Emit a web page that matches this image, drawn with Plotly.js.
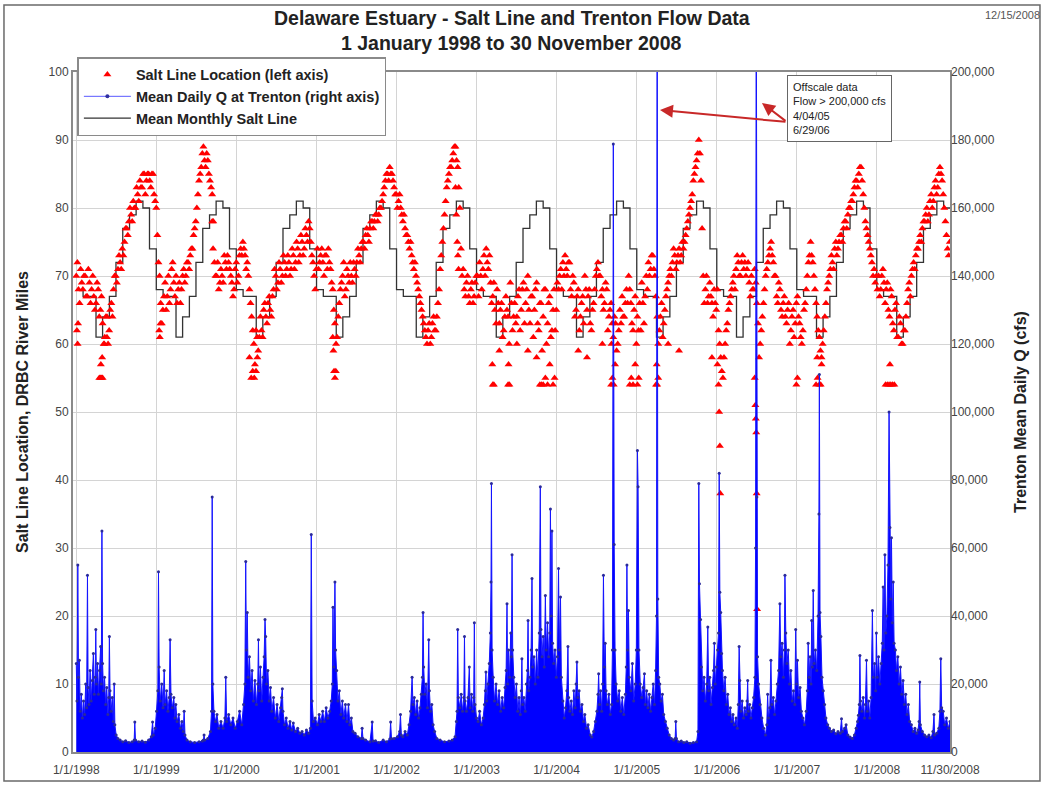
<!DOCTYPE html>
<html>
<head>
<meta charset="utf-8">
<script src="https://cdn.plot.ly/plotly-3.0.1.min.js"></script>
<style>
  html, body { margin: 0; padding: 0; background: #ffffff; }
  #chart { width: 1043px; height: 785px; }
</style>
</head>
<body>
<div id="chart"></div>
<script>
// ---------------- DATA ----------------
// Salt line location (DRBC river miles), readings on days 0,10,20,... after 1/1/1998
const saltMilesA = [
  // 1998
  70,68,71,68,70,67,69,68,67,66,68,65,63,61,64,62,66,68,70,71,72,74,75,77,78,79,81,80,82,84,83,85,84,85,83,85,81,
  // 1999
  76,70,63,67,65,70,68,72,67,66,69,68,71,70,72,73,74,77,80,84,86,89,86,87,84,82,72,70,68,71,69,72,73,71,69,68,
  // 2000
  72,70,74,75,73,72,68,64,60,62,59,64,61,66,63,67,64,68,70,69,71,70,72,71,72,71,73,72,74,73,75,74,76,78,75,72,68,
  // 2001
  74,72,74,70,73,74,71,68,63,61,66,69,72,68,70,72,69,71,72,73,74,75,76,76,77,78,78,79,79,80,82,84,85,86,85,83,
  // 2002
  82,81,80,78,77,76,74,73,71,70,68,66,64,62,60,63,61,64,62,66,71,75,79,83,85,86,88,89,86,80,70,68,69,67,68,66,69,
  // 2003
  70,72,68,73,74,71,69,67,65,68,63,66,62,67,64,69,62,66,64,68,65,69,66,70,63,67,65,69,62,66,64,68,63,67,62,68,65,
  // 2004
  68,71,72,73,70,72,67,69,65,68,64,67,70,65,68,62,66,70,72,70,68,66,68,64,66,61,63,60,65,67,64,68,70,66,62,67,64,
  // 2005
  66,69,63,70,72,71,73,70,64,62,66,63,67,69,71,72,73,72,74,73,74,76,78,80,82,85,87,90,84,70,68,66,69,66,68,65,
  // 2006
  62,58,55,60,63,66,68,70,71,72,70,73,72,71,69,70,68,69,63,60,64,68,71,73,75,72,70,66,68,64,67,63,66,62,65,63,67,
  // 2007
  63,60,65,68,72,75,72,68,64,61,58,62,66,69,71,72,74,73,75,76,77,78,79,80,81,83,84,85,86,82,78,76,74,72,71,70,
  // 2008
  70,68,71,66,69,64,67,62,66,61,63,60,62,66,69,70,72,73,74,76,77,78,80,79,82,81,84,83,86,84,80,76,73
];
// Salt line readings on days 5,15,25,... after 1/1/1998 (other edge of the daily band)
const saltMilesB = [
  // 1998
  72,66,69,70,67,71,66,70,65,69,64,67,60,64,60,65,64,70,69,73,71,73,77,76,80,78,80,83,81,83,85,82,85,84,85,82,80,
  // 1999
  72,66,65,69,67,66,71,69,70,68,66,70,69,72,71,74,76,78,82,85,88,87,88,85,83,78,70,72,69,70,73,71,72,70,67,71,
  // 2000
  69,73,73,74,71,70,66,62,57,61,61,62,65,64,66,65,67,71,68,72,69,73,70,73,70,74,71,75,72,76,73,77,75,77,73,70,71,
  // 2001
  71,73,72,73,71,72,69,65,60,64,68,70,67,71,69,70,72,70,74,72,75,74,77,75,78,77,79,78,80,81,83,85,84,85,84,82,
  // 2002
  80,82,79,79,76,75,75,72,72,69,67,65,63,61,62,60,63,62,64,68,73,77,81,84,86,87,89,87,83,74,71,67,70,66,69,67,70,
  // 2003
  67,70,71,70,72,73,66,69,63,66,65,61,64,65,60,66,64,63,67,62,68,63,68,65,67,61,68,63,66,59,68,60,66,61,65,62,69,
  // 2004
  70,68,70,71,72,68,70,64,67,62,66,63,68,67,63,65,68,71,70,67,65,69,62,65,63,64,59,62,63,64,66,66,68,63,65,60,62,
  // 2005
  62,66,67,68,70,73,71,67,60,64,61,65,68,70,70,74,71,73,72,75,75,77,79,81,84,86,88,88,77,66,70,67,67,64,66,68,
  // 2006
  60,56,58,62,65,67,69,68,73,70,72,71,70,72,67,68,71,66,58,62,66,70,72,74,73,70,67,69,65,66,64,65,60,64,61,66,64,
  // 2007
  61,62,66,70,73,73,70,66,62,59,60,64,68,70,73,71,75,74,76,75,78,77,80,81,82,84,83,86,84,80,77,75,73,70,69,68,
  // 2008
  67,70,69,68,65,68,63,65,61,64,60,62,64,68,67,71,71,74,75,75,78,79,78,81,80,83,82,85,85,82,78,74,75
];

// Low salt-line readings below the main band: [days after 1/1/1998, river mile]
const saltOutliers = [
  [3,62],[6,60],[8,63],[105,55],[110,55],[115,55],[120,55],[112,57],[118,58],[128,60],[140,61],
  [378,62],[381,61],[384,63],[620,78],[624,74],
  [790,58],[798,55],[805,56],[812,55],[820,56],[826,58],
  [1170,61],[1173,59],[1176,56],[1180,55],[1184,56],
  [1730,83],[1734,79],[1738,75],[1741,73],[1744,71],
  [1898,57],[1900,54],[1905,54],[1930,59],[1970,54],[1972,57],[1976,54],[2010,60],[2060,59],[2100,58],
  [2115,54],[2122,54],[2130,54],[2140,55],[2150,54],[2160,57],[2175,54],[2182,55],
  [2290,59],[2330,58],[2400,60],[2440,54],[2442,60],[2446,55],[2452,54],[2458,57],
  [2525,54],[2532,55],[2540,54],[2550,57],[2560,54],[2566,55],
  [2645,54],[2648,57],[2650,54],[2655,55],[2700,60],[2750,59],[2900,58],
  [2925,57],[2930,54],[2933,50],[2936,45],[2938,38],
  [3095,55],[3098,51],[3100,49],[3102,47],[3104,38],[3106,21],
  [3285,54],[3290,55],[3375,54],[3380,58],[3382,55],[3390,54],[3396,54],[3400,57],
  [3692,54],[3700,54],[3708,54],[3712,57],[3716,54],[3724,54],[3732,54]
];

// Mean daily flow at Trenton (cfs): [days after 1/1/1998, cfs]
const flowPoints = [
  // 1998
  [0,26000],[3,15000],[7,55000],[10,22000],[14,27000],[18,12000],[23,17000],[28,10000],[33,15000],[38,11000],
  [43,20000],[47,13000],[51,52000],[54,19000],[58,14000],[63,24000],[68,15000],[73,21000],[78,29000],[82,17000],
  [86,22000],[89,36000],[92,20000],[97,26000],[101,17000],[106,24000],[111,31000],[114,20000],[117,65000],[120,26000],
  [124,18000],[129,22000],[134,14000],[139,19000],[144,11000],[148,16000],[151,34000],[154,18000],[159,12000],[164,16000],
  [169,9000],[173,20000],[176,8000],[182,5000],[190,4000],[200,3500],[212,3000],[225,3300],[240,2800],[255,3000],
  [264,3500],[267,8800],[270,3500],[285,3000],[300,3200],[315,2900],[330,3500],[342,4500],[348,8800],[352,5000],[360,7000],
  // 1999
  [366,12000],[372,18000],[375,53000],[378,25000],[383,15000],[390,20000],[396,13000],[401,24000],[405,14000],[412,18000],
  [418,12000],[424,16000],[428,33000],[432,17000],[438,13000],[445,16000],[450,10000],[454,14000],[460,9000],[468,11000],
  [475,7000],[482,9000],[488,6000],[492,12000],[496,5000],[505,3500],[520,3000],[540,2800],[560,3000],[575,3200],
  [580,3500],[583,5000],[586,3500],[600,4000],[612,6000],[617,12000],[620,75000],[623,20000],[628,12000],[635,9000],
  [642,11000],[650,7000],[660,9000],[670,7000],[678,10000],[682,22000],[686,9000],[695,11000],[705,8000],[715,10000],[725,7000],
  // 2000
  [735,9000],[745,12000],[755,8000],[763,14000],[769,20000],[773,56000],[776,30000],[780,41000],[784,22000],[790,28000],
  [796,18000],[802,24000],[808,15000],[815,21000],[822,14000],[828,20000],[831,33000],[834,18000],[840,25000],[846,15000],
  [852,22000],[857,28000],[861,39000],[864,34000],[868,20000],[874,24000],[880,15000],[886,19000],[892,12000],[900,16000],
  [908,10000],[916,14000],[924,9000],[932,13000],[937,16000],[940,18600],[943,12000],[950,8000],[958,10000],[966,7000],
  [975,9000],[983,6500],[990,8500],[1000,6000],[1010,7000],[1020,5500],[1030,6000],[1040,5000],[1050,6500],[1060,5500],
  [1068,7000],[1072,64000],[1076,15000],[1082,9000],[1090,10000],
  // 2001
  [1100,8000],[1108,11000],[1116,9000],[1124,12000],[1132,9000],[1140,13000],[1148,10000],[1156,12000],[1163,15000],[1168,20000],
  [1171,42600],[1175,25000],[1180,50000],[1183,30000],[1188,24000],[1194,15000],[1200,18000],[1207,11000],[1214,15000],[1220,10000],
  [1228,14000],[1235,9000],[1242,14000],[1248,8000],[1255,10000],[1262,6000],[1272,5500],[1285,4500],[1300,4000],[1304,7000],
  [1308,4000],[1320,3500],[1340,3000],[1350,8800],[1354,3200],[1365,3300],[1380,2800],[1400,3500],[1415,3000],[1430,3800],
  [1434,8800],[1438,4000],[1450,4000],[1465,4500],[1475,6000],[1479,11000],[1483,5000],
  // 2002
  [1490,4500],[1500,6000],[1510,5000],[1518,8000],[1525,12000],[1532,22000],[1536,14000],[1542,16000],[1548,11000],[1555,15000],
  [1562,10000],[1568,13000],[1574,17000],[1579,22000],[1582,41000],[1585,25000],[1590,17000],[1596,20000],[1602,13000],[1608,33000],
  [1611,18000],[1616,12000],[1622,14000],[1628,8000],[1635,6000],[1645,4000],[1660,3500],[1680,3000],[1700,3200],[1715,3500],
  [1728,4500],[1734,9000],[1737,12000],[1740,36000],[1743,16000],[1750,13000],[1756,17000],[1762,12000],[1768,16000],[1771,34000],
  [1774,15000],[1780,12000],[1787,16000],[1793,25000],[1797,13000],[1803,17000],[1809,12000],[1813,16000],[1816,38000],[1819,14000],[1826,10000],
  // 2003
  [1833,9000],[1840,12000],[1848,8000],[1856,10000],[1862,14000],[1866,18000],[1869,23500],[1872,15000],[1878,20000],[1884,26000],
  [1889,35000],[1892,50000],[1894,79000],[1897,30000],[1902,22000],[1908,15000],[1915,20000],[1922,14000],[1929,18000],[1936,12000],
  [1943,16000],[1950,13000],[1956,19000],[1961,24000],[1965,43600],[1968,20000],[1972,30000],[1977,22000],[1982,35000],[1985,28000],
  [1988,58000],[1991,30000],[1996,22000],[2002,16000],[2008,20000],[2014,12000],[2020,16000],[2026,11000],[2030,18000],[2033,27400],
  [2036,14000],[2042,16000],[2048,12000],[2053,20000],[2058,24000],[2061,38700],[2064,18000],[2070,22000],[2075,30000],[2079,51000],
  [2082,25000],[2088,28000],[2094,20000],[2100,30000],[2106,22000],[2112,35000],[2117,78000],[2120,36000],[2125,28000],[2130,34000],
  [2135,25000],[2140,46000],[2144,30000],[2150,38000],[2155,28000],[2160,35000],[2163,71500],[2167,40000],[2170,65000],[2173,32000],
  [2178,26000],[2184,30000],[2190,22000],[2195,28000],[2200,54000],[2204,30000],[2209,45600],[2213,22000],
  // 2004
  [2220,15000],[2226,10000],[2232,13000],[2238,18000],[2243,31000],[2246,16000],[2252,12000],[2258,15000],[2264,11000],[2270,18000],
  [2276,13000],[2280,20000],[2284,26500],[2288,16000],[2294,18000],[2300,12000],[2307,14000],[2314,9000],[2320,11000],[2328,7000],
  [2335,8000],[2345,5000],[2352,4400],[2360,6000],[2368,9000],[2375,12000],[2380,17000],[2383,23000],[2387,14000],[2392,18000],
  [2397,12000],[2401,20000],[2405,52000],[2409,25000],[2413,32000],[2417,18000],[2423,14000],[2430,17000],[2436,11000],[2442,14000],
  [2446,30000],[2450,178800],[2454,61000],[2458,30000],[2463,20000],[2470,15000],[2477,18000],[2484,12000],[2491,16000],[2498,11000],
  [2505,17000],[2509,25000],[2512,55000],[2515,30000],[2519,41600],[2523,22000],[2530,18000],[2537,26000],[2543,15000],[2550,20000],
  [2555,30000],[2560,88700],[2563,78000],[2567,30000],[2573,20000],[2580,16000],
  // 2005
  [2586,19000],[2592,23000],[2596,14000],[2602,18000],[2608,13000],[2614,17000],[2620,12000],[2626,16000],[2632,20000],[2638,14000],
  [2643,24000],[2647,40000],[2650,241000],[2653,45000],[2657,22000],[2662,20000],[2668,15000],[2674,17000],[2680,11000],[2688,9000],
  [2696,7000],[2705,5000],[2715,4000],[2725,3500],[2732,4000],[2735,9000],[2738,4000],[2748,3000],[2760,3200],[2772,2800],
  [2785,3000],[2800,2600],[2815,2800],[2830,3000],[2836,6000],[2840,79000],[2843,49500],[2848,39000],[2852,25000],[2858,18000],
  [2864,22000],[2870,15000],[2876,20000],[2881,36800],[2885,18000],[2890,22000],[2896,14000],[2902,19000],[2907,24000],[2911,32000],[2915,20000],
  // 2006
  [2920,25000],[2926,30000],[2930,35000],[2933,82000],[2936,47000],[2940,41000],[2944,29000],[2948,24000],[2954,18000],[2960,22000],
  [2966,14000],[2972,17000],[2978,11000],[2984,13000],[2990,9000],[2996,11000],[3002,8000],[3010,10000],[3016,7000],[3020,14000],
  [3024,31000],[3027,21000],[3032,12000],[3038,15000],[3044,10000],[3050,13000],[3056,11000],[3060,15000],[3063,21000],[3066,12000],
  [3072,14000],[3078,10000],[3084,13000],[3090,16000],[3096,22000],[3099,60000],[3102,237000],[3105,75000],[3108,28000],[3113,20000],
  [3120,14000],[3128,10000],[3136,7000],[3144,5000],[3150,8000],[3154,17000],[3158,10000],[3164,13000],[3169,27000],[3173,14000],
  [3180,16000],[3186,11000],[3192,15000],[3198,20000],[3204,24000],[3210,43600],[3214,28000],[3220,32000],[3226,22000],[3230,30000],
  [3233,52000],[3237,35000],[3242,26000],[3248,30000],[3254,20000],[3260,24000],[3266,15000],[3272,18000],[3278,14000],[3282,36000],
  // 2007
  [3286,20000],[3290,27000],[3295,16000],[3302,19000],[3308,12000],[3315,10000],[3322,8000],[3330,12000],[3335,18000],[3339,32000],
  [3343,22000],[3348,28000],[3352,20000],[3355,38700],[3358,25000],[3362,47500],[3366,26000],[3372,30000],[3378,24000],[3384,40000],
  [3388,70000],[3390,111000],[3393,41000],[3397,34000],[3402,22000],[3408,18000],[3414,14000],[3420,10000],[3428,8000],[3436,7000],
  [3445,6000],[3455,6500],[3465,5400],[3475,6000],[3485,5500],[3491,9800],[3495,6000],[3505,7000],[3512,8000],[3520,5000],
  [3530,4400],[3540,4000],[3550,5000],[3558,7000],[3564,9000],[3568,10800],[3572,14000],[3575,28400],[3578,15000],[3584,12000],
  [3590,16000],[3596,10000],[3600,14000],[3605,27000],[3609,12000],[3615,15000],[3620,10000],[3626,16000],[3632,41600],[3636,22000],
  [3642,26000],[3647,18000],
  // 2008
  [3650,35000],[3654,22000],[3660,28000],[3666,20000],[3672,26000],[3677,32000],[3681,48500],[3685,30000],[3689,58000],[3693,35000],
  [3698,40000],[3703,55000],[3708,100000],[3712,66000],[3716,45000],[3719,63000],[3723,38000],[3727,50000],[3731,32000],[3737,30000],
  [3742,24000],[3748,28000],[3754,20000],[3760,25000],[3766,17000],[3772,21000],[3778,14000],[3784,17000],[3790,11000],[3796,14000],
  [3802,9000],[3810,8000],[3818,6000],[3826,7000],[3834,5500],[3840,6500],[3845,9000],[3848,20600],[3851,8000],[3860,6000],
  [3870,5000],[3880,4500],[3890,5000],[3900,4200],[3908,6000],[3913,11000],[3916,5000],[3925,5500],[3935,7000],[3940,12000],
  [3944,27400],[3948,13000],[3955,12000],[3962,8000],[3970,10000],[3978,7000],[3986,9000]
];

// Long-term mean monthly salt line (river miles), Jan..Dec, repeated every year
const monthlyMeanMiles = [68, 67, 67, 61, 64, 67, 72, 77, 79, 81, 80, 74];

const xTickDates  = ['1998-01-01','1999-01-01','2000-01-01','2001-01-01','2002-01-01','2003-01-01',
                     '2004-01-01','2005-01-01','2006-01-01','2007-01-01','2008-01-01','2008-11-30'];
const xTickLabels = ['1/1/1998','1/1/1999','1/1/2000','1/1/2001','1/1/2002','1/1/2003',
                     '1/1/2004','1/1/2005','1/1/2006','1/1/2007','1/1/2008','11/30/2008'];
const leftTicks  = [0,10,20,30,40,50,60,70,80,90,100];
const rightTicks = [0,20000,40000,60000,80000,100000,120000,140000,160000,180000,200000];

// ---------------- BUILD TRACES ----------------
const T0 = Date.UTC(1998, 0, 1);
function dayToDate(d) { return new Date(T0 + d * 86400000).toISOString().slice(0, 10); }

const saltX = saltMilesA.map((v, k) => dayToDate(10 * k))
  .concat(saltMilesB.map((v, k) => dayToDate(10 * k + 5)))
  .concat(saltOutliers.map(p => dayToDate(p[0])));
const saltY = saltMilesA.concat(saltMilesB).concat(saltOutliers.map(p => p[1]));

const flowX = flowPoints.map(p => dayToDate(p[0]));
const flowY = flowPoints.map(p => p[1]);

const stepX = [], stepY = [];
for (let y = 1998; y <= 2008; y++) {
  for (let m = 0; m < 12; m++) {
    if (y === 2008 && m > 10) break;
    stepX.push(y + '-' + String(m + 1).padStart(2, '0') + '-01');
    stepY.push(monthlyMeanMiles[m]);
  }
}
stepX.push('2008-11-30'); stepY.push(monthlyMeanMiles[10]);

const FONT = 'Liberation Sans, Arial, sans-serif';

const traces = [
  {
    name: 'Mean Daily Q at Trenton (right axis)',
    x: flowX, y: flowY, yaxis: 'y2',
    type: 'scatter', mode: 'lines+markers',
    line: { color: '#1414ff', width: 1 },
    marker: { color: '#2a2a9a', size: 3 },
    fill: 'tozeroy', fillcolor: '#0000ff',
    showlegend: false
  },
  {
    // legend swatch only (line with dots, as in the original key)
    name: 'Mean Daily Q at Trenton (right axis)',
    x: [null], y: [null], yaxis: 'y2',
    type: 'scatter', mode: 'lines+markers',
    line: { color: '#5a5aff', width: 1 },
    marker: { color: '#3030a0', size: 4 },
    legendrank: 2
  },
  {
    name: 'Mean Monthly Salt Line',
    x: stepX, y: stepY,
    type: 'scatter', mode: 'lines',
    line: { color: '#333333', width: 1.3, shape: 'hv' },
    legendrank: 3
  },
  {
    name: 'Salt Line Location (left axis)',
    x: saltX, y: saltY,
    type: 'scatter', mode: 'markers',
    marker: { symbol: 'triangle-up', color: '#ff0000', size: 7 },
    legendrank: 1
  }
];

const layout = {
  width: 1043, height: 785,
  margin: { l: 73, r: 93, t: 72, b: 33 },
  paper_bgcolor: '#ffffff', plot_bgcolor: '#ffffff',
  font: { family: FONT, size: 12, color: '#333333' },
  showlegend: true,
  legend: {
    x: 0.005, y: 1.022, xanchor: 'left', yanchor: 'top',
    bgcolor: '#ffffff', bordercolor: '#8a8a8a', borderwidth: 1.5,
    font: { family: FONT, size: 14.5, color: '#222222', weight: 'bold' },
    itemwidth: 47, tracegroupgap: 0
  },
  xaxis: {
    type: 'date', range: ['1997-12-17', '2008-11-30'],
    tickmode: 'array', tickvals: xTickDates, ticktext: xTickLabels,
    tickfont: { family: FONT, size: 12, color: '#444444' },
    ticklabelstandoff: 6,
    showgrid: true, gridcolor: '#d4d4d4', gridwidth: 1,
    showline: true, linecolor: '#8a8a8a', linewidth: 2, mirror: true,
    ticks: '', zeroline: false
  },
  yaxis: {
    range: [0, 100], tickmode: 'array', tickvals: leftTicks,
    tickfont: { family: FONT, size: 12, color: '#444444' },
    showgrid: true, gridcolor: '#d4d4d4', gridwidth: 1,
    showline: true, linecolor: '#8a8a8a', linewidth: 2, mirror: true,
    ticks: '', zeroline: false,
    title: { text: 'Salt Line Location, DRBC River Miles', standoff: 16,
             font: { family: FONT, size: 16, color: '#222222', weight: 'bold' } }
  },
  yaxis2: {
    overlaying: 'y', side: 'right', range: [0, 200000],
    tickmode: 'array', tickvals: rightTicks, tickformat: ',d',
    tickfont: { family: FONT, size: 12, color: '#444444' },
    showgrid: false, showline: false, ticks: '', zeroline: false,
    title: { text: 'Trenton Mean Daily Q (cfs)', standoff: 21,
             font: { family: FONT, size: 16, color: '#222222', weight: 'bold' } }
  },
  annotations: [
    { xref: 'paper', yref: 'paper', x: 0.5, y: 1.0, yshift: 54, xanchor: 'center', yanchor: 'middle',
      text: '<b>Delaware Estuary - Salt Line and Trenton Flow Data</b>', showarrow: false,
      font: { family: FONT, size: 19.5, color: '#222222' } },
    { xref: 'paper', yref: 'paper', x: 0.5, y: 1.0, yshift: 29, xanchor: 'center', yanchor: 'middle',
      text: '<b>1 January 1998 to 30 November 2008</b>', showarrow: false,
      font: { family: FONT, size: 19.5, color: '#222222' } },
    { xref: 'paper', yref: 'paper', x: 1.0, y: 1.0, xshift: 62, yshift: 57, xanchor: 'center', yanchor: 'middle',
      text: '12/15/2008', showarrow: false,
      font: { family: FONT, size: 11, color: '#555555' } },
    { xref: 'paper', yref: 'paper', x: 0.814, y: 0.9956, xanchor: 'left', yanchor: 'top', align: 'left',
      text: 'Offscale data<br>Flow &gt; 200,000 cfs<br>4/04/05<br>6/29/06', showarrow: false,
      bgcolor: '#ffffff', bordercolor: '#666666', borderwidth: 1, borderpad: 5,
      font: { family: FONT, size: 11, color: '#222222' } },
    { xref: 'paper', yref: 'paper', x: 0.6693, y: 0.9441, ax: 127, ay: 12, text: '', showarrow: true,
      arrowhead: 2, arrowsize: 1.3, arrowwidth: 2, arrowcolor: '#c82828' },
    { xref: 'paper', yref: 'paper', x: 0.7856, y: 0.9544, ax: 25, ay: 19, text: '', showarrow: true,
      arrowhead: 2, arrowsize: 1.3, arrowwidth: 2, arrowcolor: '#c82828' }
  ],
  shapes: [
    { type: 'rect', xref: 'paper', yref: 'paper', x0: -0.0787, x1: 1.1026, y0: -0.0426, y1: 1.0985,
      line: { color: '#6a6a6a', width: 1.5 }, fillcolor: 'rgba(0,0,0,0)', layer: 'below' }
  ]
};

Plotly.newPlot('chart', traces, layout, { displayModeBar: false, staticPlot: true });
</script>
</body>
</html>
